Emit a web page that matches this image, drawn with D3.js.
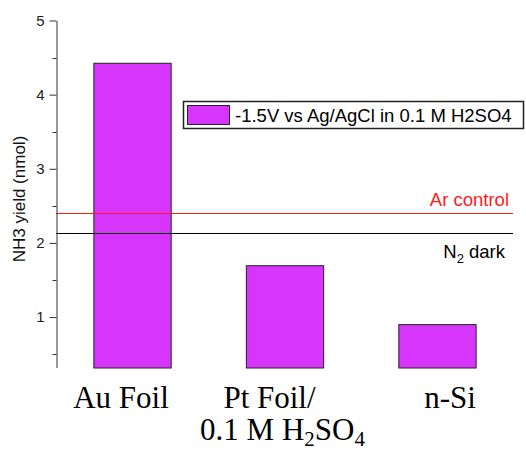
<!DOCTYPE html>
<html>
<head>
<meta charset="utf-8">
<script src="https://cdn.jsdelivr.net/npm/d3@7"></script>
<style>
body{margin:0;background:#fff}
svg{display:block}
</style>
</head>
<body>
<script>
var categories=["Au Foil","Pt Foil/","n-Si"]
var yields=[4.43,1.70,0.905]
var seriesName="-1.5V vs Ag/AgCl in 0.1 M H2SO4"
var majorTicks=[1,2,3,4,5]
var minorTicks=[0.5,1.5,2.5,3.5,4.5]
var refNames=["Ar control","N2 dark"]
var refValues=[2.40,2.14]
var refColors=["#ff1a1a","#000000"]

var screen={width:526,height:450}
var barColor="#d835fc"
var svg=d3.select("body").append("svg")
          .attr("width",screen.width)
          .attr("height",screen.height)

var x=d3.scaleBand().domain(categories).range([56,513]).paddingInner(0.493).paddingOuter(0.245)
var y=d3.scaleLinear().domain([0.32,5]).range([367.5,20.5])

// bars
svg.append("g").selectAll("rect")
   .data(yields)
   .enter()
   .append("rect")
   .attr("x",function(d,i){return x(categories[i])+0.5})
   .attr("y",function(d){return y(d)+0.5})
   .attr("width",x.bandwidth())
   .attr("height",function(d){return y.range()[0]-y(d)})
   .attr("fill",barColor)
   .attr("stroke","#222")
   .attr("stroke-width",1)

// reference lines (drawn as 1px rects so the colour stays crisp)
var refs=svg.append("g")
refs.selectAll("rect")
    .data(refValues)
    .enter()
    .append("rect")
    .attr("x",x.range()[0])
    .attr("width",x.range()[1]-x.range()[0])
    .attr("y",function(d){return Math.round(y(d))})
    .attr("height",1.3)
    .attr("fill",function(d,i){return refColors[i]})
    .attr("shape-rendering","crispEdges")
refs.append("text")
    .attr("x",509)
    .attr("y",y(refValues[0])-7)
    .attr("text-anchor","end")
    .attr("fill",refColors[0])
    .style("font-family","Liberation Sans, Arial, sans-serif")
    .style("font-size","18.5px")
    .text(refNames[0])
var n2=refs.append("text")
    .attr("x",505)
    .attr("y",y(refValues[1])+25)
    .attr("text-anchor","end")
    .attr("fill",refColors[1])
    .style("font-family","Liberation Sans, Arial, sans-serif")
    .style("font-size","18.5px")
n2.append("tspan").text("N")
n2.append("tspan").attr("dy",5).style("font-size","13px").text("2")
n2.append("tspan").attr("dy",-5).text(" dark")

// y axis
var axis=svg.append("g")
   .attr("transform","translate(56.5,0)")
   .call(d3.axisLeft(y).tickValues(majorTicks).tickFormat(d3.format("d")).tickSize(7).tickSizeOuter(0).tickPadding(5))
axis.attr("font-size",null).attr("font-family",null)
axis.selectAll("text")
    .style("font-family","Liberation Sans, Arial, sans-serif")
    .style("font-size","15px")
    .attr("fill","#222")
axis.selectAll("path,line").attr("stroke","#333")
axis.selectAll(".minor")
    .data(minorTicks)
    .enter()
    .append("line")
    .attr("class","minor")
    .attr("x1",-4)
    .attr("x2",0)
    .attr("y1",function(d){return Math.round(y(d))+0.5})
    .attr("y2",function(d){return Math.round(y(d))+0.5})
    .attr("stroke","#333")

svg.append("text")
   .attr("transform","translate(25,"+((y.range()[0]+y.range()[1])/2+5)+") rotate(-90)")
   .attr("text-anchor","middle")
   .style("font-family","Liberation Sans, Arial, sans-serif")
   .style("font-size","17px")
   .attr("fill","#111")
   .text("NH3 yield (nmol)")

// category labels
var labelShift=[-11,-15,13]
var labels=svg.append("g")
labels.selectAll("text")
      .data(categories)
      .enter()
      .append("text")
      .attr("x",function(d,i){return x(d)+x.bandwidth()/2+labelShift[i]})
      .attr("y",408)
      .attr("text-anchor","middle")
      .style("font-family","Liberation Serif, Times New Roman, serif")
      .style("font-size","31px")
      .text(function(d){return d})
var sub=labels.append("text")
      .attr("x",x(categories[1])+x.bandwidth()/2-2)
      .attr("y",440)
      .attr("text-anchor","middle")
      .style("font-family","Liberation Serif, Times New Roman, serif")
      .style("font-size","31px")
sub.append("tspan").text("0.1 M H")
sub.append("tspan").attr("dy",6).style("font-size","21px").text("2")
sub.append("tspan").attr("dy",-6).text("SO")
sub.append("tspan").attr("dy",6).style("font-size","21px").text("4")

// legend
var legend=svg.append("g").attr("transform","translate(183,101)")
legend.append("rect")
      .attr("x",0.5).attr("y",0.5)
      .attr("width",340).attr("height",27)
      .attr("fill","#fff")
      .attr("stroke","#222")
      .attr("stroke-width",1.5)
legend.append("rect")
      .attr("x",4.5).attr("y",4.5)
      .attr("width",42).attr("height",19)
      .attr("fill",barColor)
      .attr("stroke","#222")
legend.append("text")
      .attr("x",52)
      .attr("y",21)
      .style("font-family","Liberation Sans, Arial, sans-serif")
      .style("font-size","18.5px")
      .text(seriesName)
</script>
</body>
</html>
